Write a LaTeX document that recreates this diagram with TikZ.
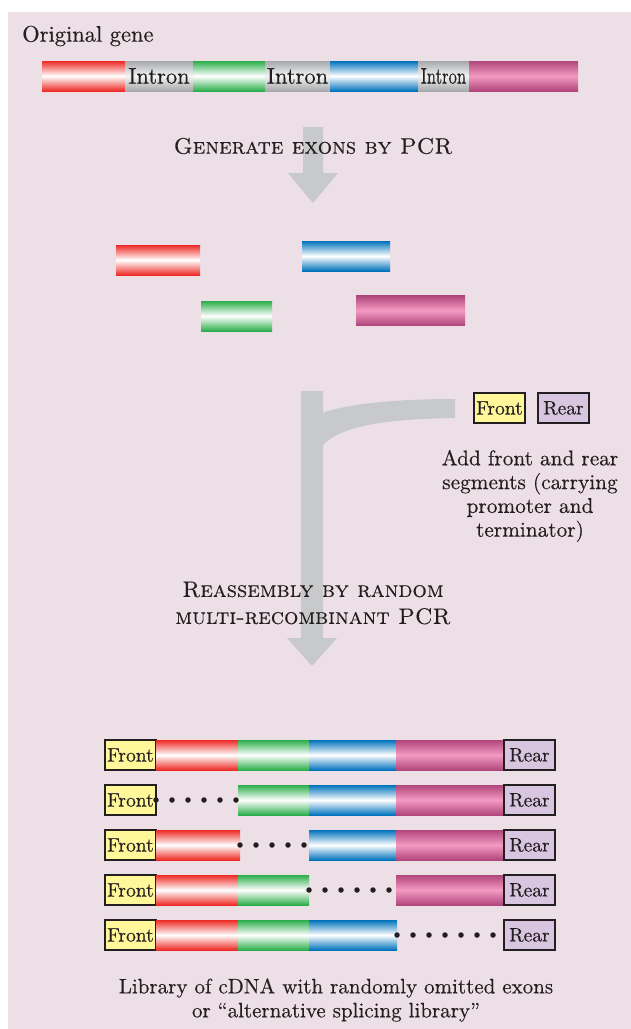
\documentclass[tikz,border=0pt]{standalone}
\usepackage{graphicx}
\usepackage{fontspec}
\setmainfont{lmroman10-regular.otf}[BoldFont=lmroman10-bold.otf, SmallCapsFont=lmromancaps10-regular.otf, FakeBold=0.35, SmallCapsFeatures={FakeBold=0.35}]
\definecolor{bgpink}{HTML}{EDDFE6}
\definecolor{ink}{HTML}{231F20}
\definecolor{exred}{HTML}{EE2A24}
\definecolor{exgreen}{HTML}{2BAE4A}
\definecolor{exblue}{HTML}{0072BC}
\definecolor{exmag}{HTML}{B0467C}
\definecolor{exmagmid}{HTML}{F49AC2}
\definecolor{intgray}{HTML}{A6A8AB}
\definecolor{intmid}{HTML}{F4F4F4}
\definecolor{frontfill}{HTML}{FFF799}
\definecolor{rearfill}{HTML}{D8C6E0}
\definecolor{arrowgray}{HTML}{C7C9CA}
\begin{document}
\begin{tikzpicture}[x=1pt,y=-1pt,
  bar/.style={rectangle,inner sep=0pt,outer sep=0pt,anchor=west,minimum height=30pt},
  redbar/.style={bar,top color=exred,bottom color=exred,middle color=white},
  greenbar/.style={bar,top color=exgreen,bottom color=exgreen,middle color=white},
  bluebar/.style={bar,top color=exblue,bottom color=exblue,middle color=white},
  magbar/.style={bar,top color=exmag,bottom color=exmag,middle color=exmagmid},
  intbar/.style={bar,top color=intgray,bottom color=intgray,middle color=intmid,text=ink,font=\fontsize{22.5}{26}\selectfont},
  tagbox/.style={rectangle,inner sep=0pt,outer sep=0pt,minimum width=51pt,minimum height=30pt,draw=ink,line width=1.8pt,text=ink,font=\fontsize{19.5}{22}\selectfont},
  frontbox/.style={tagbox,fill=frontfill,anchor=west},
  rearbox/.style={tagbox,fill=rearfill,anchor=west},
  dotline/.style={ink,line width=5.5pt,line cap=round,dash pattern=on 0pt off 16pt},
  label/.style={text=ink,inner sep=0pt,font=\fontsize{22.5}{24}\selectfont},
  head/.style={text=ink,inner sep=0pt,align=center,font=\fontsize{22.5}{27}\selectfont},
  arrowfill/.style={fill=arrowgray}
]
\useasboundingbox (0,0) rectangle (631,1029);
\fill[white] (0,0) rectangle (631,1029);
\fill[bgpink] (8,12) rectangle (631,1029);

% Original gene
\node[label,anchor=west] (orig) at (22,36) {Original gene};
\node[redbar,minimum width=83pt] (ga) at (42,76) {};
\node[intbar,minimum width=68pt] (gi1) at (125,76) {Intron};
\node[greenbar,minimum width=72pt] (gb) at (193,76) {};
\node[intbar,minimum width=65pt] (gi2) at (265,76) {Intron};
\node[bluebar,minimum width=88pt] (gc) at (330,76) {};
\node[intbar,minimum width=51pt] (gi3) at (418,76) {\scalebox{0.74}[1]{Intron}};
\node[magbar,minimum width=109pt] (gd) at (469,76) {};

% arrow 1
\fill[arrowfill] (303,127) -- (323,127) -- (323,173) -- (338,173) -- (313,203) -- (288,173) -- (303,173) -- cycle;
\node[head] (h1) at (313,146) {\textsc{Generate exons by PCR}};

% separate exons
\node[redbar,minimum width=84pt] (ea) at (116,260) {};
\node[bluebar,minimum width=88pt] (ec) at (302,256) {};
\node[greenbar,minimum width=71pt] (eb) at (201,316) {};
\node[magbar,minimum width=109pt] (ed) at (356,310.5) {};

% arrow 2 with branch
\fill[arrowfill] (301,391) -- (323,391) -- (323,638) -- (337,638) -- (312,666) -- (287,638) -- (301,638) -- cycle;
\fill[arrowfill] (322,413) .. controls (350,403) and (400,399) .. (455,399) -- (455,418) .. controls (385,419) and (340,426) .. (322,446) -- cycle;

\node[frontbox] (tf) at (474,408) {Front};
\node[rearbox] (tr) at (538,408) {Rear};
\node[label,align=center,font=\fontsize{21.3}{23.8}\selectfont] (addtxt) at (530,496) {Add front and rear\\segments (carrying\\promoter and\\terminator)};

\node[head] (h2) at (313,603) {\textsc{Reassembly by random}\\\textsc{multi-recombinant PCR}};

% library rows
% row 1
\node[frontbox] (f1) at (105,755) {Front};
\node[redbar,minimum width=82pt] (r1a) at (156,755) {};
\node[greenbar,minimum width=71pt] (r1b) at (238,755) {};
\node[bluebar,minimum width=87pt] (r1c) at (309,755) {};
\node[magbar,minimum width=108pt] (r1d) at (396,755) {};
\node[rearbox] (e1) at (504,755) {Rear};
% row 2
\node[greenbar,minimum width=71pt] (r2b) at (238,800) {};
\node[bluebar,minimum width=87pt] (r2c) at (309,800) {};
\node[magbar,minimum width=108pt] (r2d) at (396,800) {};
\node[frontbox] (f2) at (105,800) {Front};
\node[rearbox] (e2) at (504,800) {Rear};
\draw[dotline] (f2.east) -- (r2b.west);
% row 3
\node[frontbox] (f3) at (105,845) {Front};
\node[redbar,minimum width=84pt] (r3a) at (156,845) {};
\node[bluebar,minimum width=87pt] (r3c) at (309,845) {};
\node[magbar,minimum width=108pt] (r3d) at (396,845) {};
\node[rearbox] (e3) at (504,845) {Rear};
\draw[dotline] (r3a.east) -- (r3c.west);
% row 4
\node[frontbox] (f4) at (105,890) {Front};
\node[redbar,minimum width=82pt] (r4a) at (156,890) {};
\node[greenbar,minimum width=71pt] (r4b) at (238,890) {};
\node[magbar,minimum width=108pt] (r4d) at (396,890) {};
\node[rearbox] (e4) at (504,890) {Rear};
\draw[dotline] (r4b.east) -- (r4d.west);
% row 5
\node[frontbox] (f5) at (105,935) {Front};
\node[redbar,minimum width=82pt] (r5a) at (156,935) {};
\node[greenbar,minimum width=71pt] (r5b) at (238,935) {};
\node[bluebar,minimum width=88pt] (r5c) at (309,935) {};
\node[rearbox] (e5) at (504,935) {Rear};
\draw[dotline] (r5c.east) -- (e5.west);

\node[label,align=center,font=\fontsize{21}{24}\selectfont] (cap) at (336,1000) {Library of cDNA with randomly omitted exons\\or \textquotedblleft alternative splicing library\textquotedblright};
\end{tikzpicture}
\end{document}
